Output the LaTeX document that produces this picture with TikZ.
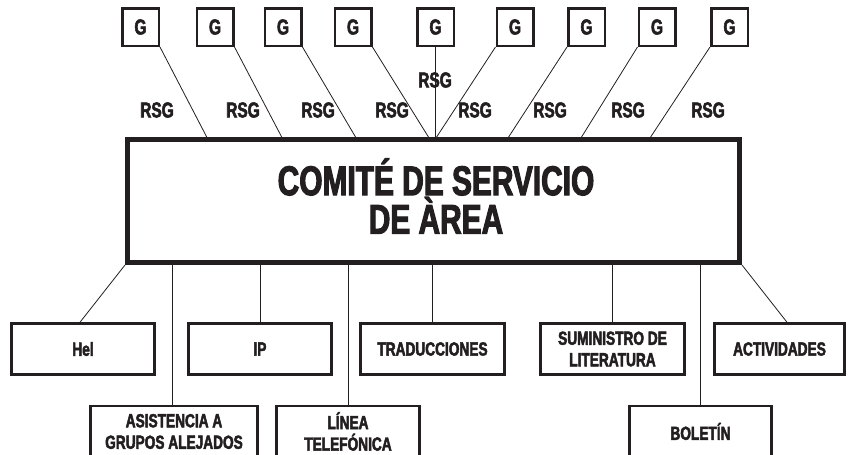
\documentclass[tikz,border=0pt]{standalone}
\usepackage{fontspec}
\newfontfamily\cond{Liberation Sans}[UprightFont=* Bold, FakeStretch=0.72, FakeBold=2.5]
\usetikzlibrary{calc}
\definecolor{ink}{HTML}{231F20}
\tikzset{
  gbox/.style={draw=ink, line width=2.5pt, fill=white, minimum width=36.5pt, minimum height=37.5pt, inner sep=0pt, text=ink, font=\cond\fontsize{21.5}{21}\selectfont},
  lbl/.style={inner sep=0pt, text=ink, font=\cond\fontsize{21.5}{21}\selectfont},
  mainbox/.style={draw=ink, line width=5pt, fill=white, minimum width=612pt, minimum height=123pt, inner sep=0pt},
  maintext/.style={inner sep=0pt, align=center, text=ink, font=\cond\fontsize{41.5}{38.5}\selectfont},
  sbox/.style={draw=ink, line width=2.5pt, fill=white, minimum height=51pt, inner sep=0pt, align=center, text=ink, font=\cond\fontsize{19}{21.5}\selectfont},
  conn/.style={draw=ink, line width=0.8pt}
}
\begin{document}
\begin{tikzpicture}[x=1pt, y=-1pt]
\useasboundingbox (0,0) rectangle (849,455);
\clip (0,0) rectangle (849,455);
% top G boxes
\node[gbox] (g1) at (140.5,27) {G};
\node[gbox] (g2) at (215,27) {G};
\node[gbox] (g3) at (283,27) {G};
\node[gbox] (g4) at (353,27) {G};
\node[gbox] (g5) at (435.5,27) {G};
\node[gbox] (g6) at (515,27) {G};
\node[gbox] (g7) at (586.5,27) {G};
\node[gbox] (g8) at (657,27) {G};
\node[gbox] (g9) at (729.5,27) {G};
% ends on the committee box
\coordinate (t1) at (208,139.5);
\coordinate (t2) at (283,139.5);
\coordinate (t3) at (357,139.5);
\coordinate (t4) at (430,139.5);
\coordinate (t5) at (435.5,139.5);
\coordinate (t6) at (435,139.5);
\coordinate (t7) at (507,139.5);
\coordinate (t8) at (580,139.5);
\coordinate (t9) at (649,139.5);
\draw[conn] (g1.south east) -- (t1);
\draw[conn] (g2.south east) -- (t2);
\draw[conn] (g3.south east) -- (t3);
\draw[conn] (g4.south east) -- (t4);
\draw[conn] (g5.south) -- (t5);
\draw[conn] (g6.south west) -- (t6);
\draw[conn] (g7.south west) -- (t7);
\draw[conn] (g8.south west) -- (t8);
\draw[conn] (g9.south west) -- (t9);
% RSG labels
\node[lbl] (r1) at (157,110) {RSG};
\node[lbl] (r2) at (243,110) {RSG};
\node[lbl] (r3) at (318,110) {RSG};
\node[lbl] (r4) at (392,110) {RSG};
\node[lbl] (r5) at (435,80) {RSG};
\node[lbl] (r6) at (475,110) {RSG};
\node[lbl] (r7) at (550,110) {RSG};
\node[lbl] (r8) at (628,110) {RSG};
\node[lbl] (r9) at (708,110) {RSG};
% bottom boxes
\node[sbox, minimum width=143pt] (hel) at (83,349) {Hel};
\node[sbox, minimum width=143pt] (ip) at (260,349) {IP};
\node[sbox, minimum width=144pt] (trad) at (432.5,349) {TRADUCCIONES};
\node[sbox, minimum width=144pt] (sum) at (612.5,349) {SUMINISTRO DE\\LITERATURA};
\node[sbox, minimum width=130pt] (act) at (779.5,349) {ACTIVIDADES};
\node[sbox, minimum width=167pt] (asis) at (174,431.5) {ASISTENCIA A\\GRUPOS ALEJADOS};
\node[sbox, minimum width=143pt] (lin) at (348,431.5) {LÍNEA\\TELEFÓNICA};
\node[sbox, minimum width=142pt] (bol) at (700.5,431.5) {BOLETÍN};
% main box
\node[mainbox] (main) at (433.5,201) {};
\node[maintext] (mtext) at (436,196) {COMITÉ DE SERVICIO\\DE ÀREA};
% bottom connectors
\draw[conn] (main.south west) -- ($(hel.north)+(-3,0)$);
\draw[conn] (main.south -| asis.north) ++(-2,0) -- ($(asis.north)+(-2,0)$);
\draw[conn] (main.south -| ip.north) -- (ip.north);
\draw[conn] (main.south -| lin.north) -- (lin.north);
\draw[conn] (main.south -| trad.north) -- (trad.north);
\draw[conn] (main.south -| sum.north) -- (sum.north);
\draw[conn] (main.south -| bol.north) -- (bol.north);
\draw[conn] (main.south east) -- ($(act.north)+(7.5,0)$);
\end{tikzpicture}
\end{document}
